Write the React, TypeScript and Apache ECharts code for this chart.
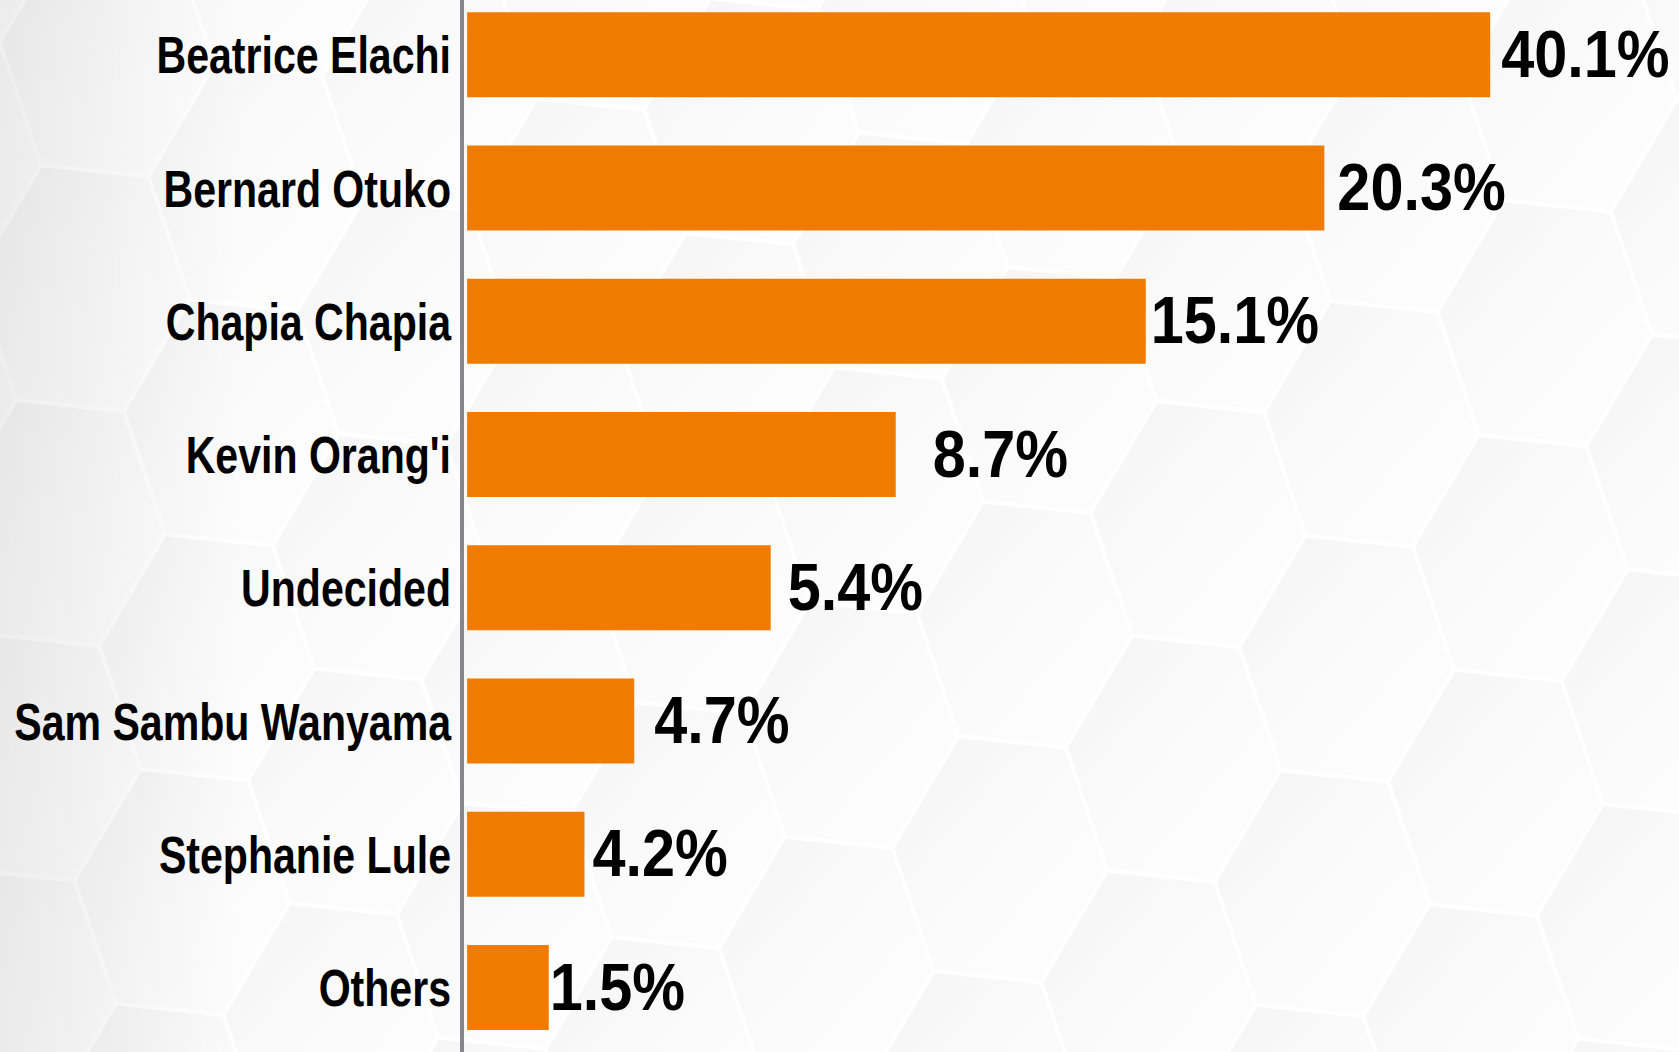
import React, { useEffect, useRef } from "react";
import * as echarts from "echarts";

// Candidates, top to bottom
const categories = [
  "Beatrice Elachi",
  "Bernard Otuko",
  "Chapia Chapia",
  "Kevin Orang'i",
  "Undecided",
  "Sam Sambu Wanyama",
  "Stephanie Lule",
  "Others",
];
// Share labels shown next to each bar (%)
const shares = [40.1, 20.3, 15.1, 8.7, 5.4, 4.7, 4.2, 1.5];
// Bar lengths as drawn in the source graphic (not drawn to scale there)
const barLengths = [40.1, 33.6, 26.6, 16.8, 11.9, 6.55, 4.6, 3.2];

// style only: gap between bar end and its value label (px)
const labelGaps = [11, 13, 5, 37, 17, 20, 8, 1];

const W = 1679;
const H = 1052;
const FONT = "'Liberation Sans', Arial, Helvetica, sans-serif";

function hexBackground(): any[] {
  const els: any[] = [];
  els.push({
    type: "rect",
    z: -20,
    silent: true,
    shape: { x: 0, y: 0, width: W, height: H },
    style: { fill: "#ffffff" },
  });
  const th = (6 * Math.PI) / 180;
  const c = Math.cos(th);
  const s = Math.sin(th);
  const rot = (x: number, y: number) => [x * c - y * s, x * s + y * c];
  const a = 108;
  const b = 118;
  const ax = 1198;
  const ay = 524;
  const u = rot(162, 118);
  const v = rot(0, 236);
  const local = [
    [-a, 0],
    [-a / 2, -b],
    [a / 2, -b],
    [a, 0],
    [a / 2, b],
    [-a / 2, b],
  ];
  for (let i = -12; i <= 12; i++) {
    for (let j = -12; j <= 12; j++) {
      const cx = ax + i * u[0] + j * v[0];
      const cy = ay + i * u[1] + j * v[1];
      if (cx < -200 || cx > W + 200 || cy < -200 || cy > H + 200) continue;
      const pts = local.map(([x, y]) => {
        const r = rot(x * 0.99, y * 0.99);
        return [cx + r[0], cy + r[1]];
      });
      els.push({
        type: "polygon",
        z: -19,
        silent: true,
        shape: { points: pts },
        style: {
          fill: {
            type: "linear",
            x: 0,
            y: 0,
            x2: 1,
            y2: 1,
            colorStops: [
              { offset: 0, color: "#f4f4f4" },
              { offset: 0.45, color: "#fafafa" },
              { offset: 1, color: "#fefefe" },
            ],
          },
          stroke: "#ffffff",
          lineWidth: 2,
        },
      });
    }
  }
  els.push({
    type: "rect",
    z: -18,
    silent: true,
    shape: { x: 0, y: 0, width: 240, height: H },
    style: {
      fill: {
        type: "linear",
        x: 0,
        y: 0,
        x2: 1,
        y2: 0,
        colorStops: [
          { offset: 0, color: "rgba(0,0,0,0.065)" },
          { offset: 1, color: "rgba(0,0,0,0)" },
        ],
      },
    },
  });
  return els;
}

export default function App() {
  const ref = useRef<HTMLDivElement>(null);
  useEffect(() => {
    if (!ref.current) return;
    const chart = echarts.init(ref.current, null, { renderer: "svg" });
    const X_MIN = -0.2;
    const rows = barLengths.map((v, i) => [v, i, shares[i]]);
    chart.setOption({
      animation: false,
      backgroundColor: "#ffffff",
      graphic: { elements: hexBackground() },
      grid: {
        left: 462,
        right: 0,
        top: -12,
        bottom: -2,
        containLabel: false,
        outerBoundsMode: "none",
      },
      xAxis: {
        type: "value",
        min: X_MIN,
        max: 47.5,
        show: false,
        splitLine: { show: false },
      },
      yAxis: {
        type: "category",
        inverse: true,
        data: categories,
        axisLine: {
          show: true,
          onZero: false,
          lineStyle: { color: "#87878b", width: 4 },
        },
        axisTick: { show: false },
        splitLine: { show: false },
        axisLabel: { show: false },
      },
      series: [
        {
          type: "bar",
          barWidth: 85,
          itemStyle: { color: "#ef7b00" },
          data: barLengths,
          z: 2,
        },
        {
          // category names, left of the axis line
          type: "custom",
          z: 3,
          silent: true,
          data: rows,
          renderItem: (params: any, api: any) => {
            const idx = api.value(1);
            const p = api.coord([X_MIN, idx]);
            return {
              type: "text",
              x: p[0] - 11,
              y: p[1] + 1,
              scaleX: 0.79,
              style: {
                text: categories[idx],
                fill: "#000000",
                fontSize: 52,
                fontWeight: "bold",
                fontFamily: FONT,
                align: "right",
                verticalAlign: "middle",
              },
            };
          },
        },
        {
          // value labels, right of each bar
          type: "custom",
          z: 3,
          silent: true,
          data: rows,
          renderItem: (params: any, api: any) => {
            const idx = api.value(1);
            const p = api.coord([api.value(0), idx]);
            return {
              type: "text",
              x: p[0] + labelGaps[idx],
              y: p[1] - 1,
              scaleX: 0.9,
              style: {
                text: Number(api.value(2)).toFixed(1) + "%",
                fill: "#000000",
                fontSize: 66,
                fontWeight: "bold",
                fontFamily: FONT,
                align: "left",
                verticalAlign: "middle",
              },
            };
          },
        },
      ],
    });
    return () => chart.dispose();
  }, []);
  return (
    <div
      ref={ref}
      style={{ position: "absolute", left: 0, top: 0, width: W, height: H }}
    />
  );
}
